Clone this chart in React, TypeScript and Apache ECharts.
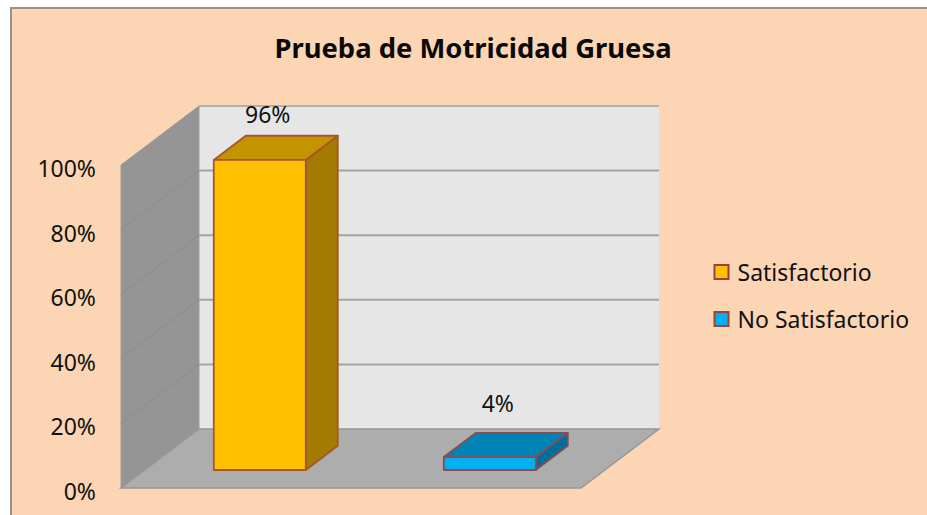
import React, { useEffect, useRef } from "react";
import * as echarts from "echarts";

const titleText = "Prueba de Motricidad Gruesa";
const categories = ["Satisfactorio", "No Satisfactorio"];
const satisfactorioValues = [96];
const noSatisfactorioValues = [4];
const yTicks = [0, 20, 40, 60, 80, 100];

const FONT = '"Noto Sans", sans-serif';
const DEPTH_X = 78;
const DEPTH_Y = -59;
const BAR_DEPTH_START = 0.305;
const BAR_DEPTH = 0.41;
const BAR_WIDTH_RATIO = 0.4;

function wallsRenderItem(params: any, api: any) {
  const cs = params.coordSys;
  const xL = cs.x;
  const xR = cs.x + cs.width;
  const yTop = cs.y;
  const yBot = cs.y + cs.height;
  const bx = DEPTH_X;
  const by = DEPTH_Y;
  const children: any[] = [
    {
      type: "polygon",
      shape: { points: [[xL + bx, yTop + by], [xR + bx, yTop + by], [xR + bx, yBot + by], [xL + bx, yBot + by]] },
      style: { fill: "#e6e6e6", stroke: "none" },
    },
    {
      type: "polygon",
      shape: { points: [[xL, yTop], [xL + bx, yTop + by], [xL + bx, yBot + by], [xL, yBot]] },
      style: { fill: "#959595", stroke: "#9c9c9c", lineWidth: 1 },
    },
    {
      type: "polygon",
      shape: { points: [[xL, yBot], [xR, yBot], [xR + bx, yBot + by], [xL + bx, yBot + by]] },
      style: { fill: "#adadad", stroke: "#979797", lineWidth: 1.5 },
    },
  ];
  yTicks.forEach((t) => {
    const y = api.coord([0, t])[1];
    if (t > 0) {
      children.push({
        type: "line",
        shape: { x1: xL + bx, y1: y + by, x2: xR + bx, y2: y + by },
        style: { stroke: t === 100 ? "#b0b0b0" : "#a3a3a3", lineWidth: 2 },
      });
      if (t < 100) {
        children.push({
          type: "line",
          shape: { x1: xL, y1: y, x2: xL + bx, y2: y + by },
          style: { stroke: "#8b8b8b", lineWidth: 1 },
        });
      }
    }
  });
  return { type: "group", children };
}

function barRenderItem(colors: { front: string; top: string; side: string; stroke: string }, labelLift: number) {
  return (_params: any, api: any) => {
    const idx = api.value(0);
    const val = api.value(1);
    const base = api.coord([idx, 0]);
    const tip = api.coord([idx, val]);
    const w = api.size([1, 0])[0] * BAR_WIDTH_RATIO;
    const ox = DEPTH_X * BAR_DEPTH_START;
    const oy = DEPTH_Y * BAR_DEPTH_START;
    const dx = DEPTH_X * BAR_DEPTH;
    const dy = DEPTH_Y * BAR_DEPTH;
    const l = base[0] + ox - w / 2;
    const r = l + w;
    const b = base[1] + oy;
    const t = tip[1] + oy;
    const edge = { stroke: colors.stroke, lineWidth: 1.8, lineJoin: "round" };
    return {
      type: "group",
      children: [
        {
          type: "polygon",
          shape: { points: [[r, t], [r + dx, t + dy], [r + dx, b + dy], [r, b]] },
          style: { fill: colors.side, ...edge },
        },
        {
          type: "polygon",
          shape: { points: [[l, t], [l + dx, t + dy], [r + dx, t + dy], [r, t]] },
          style: { fill: colors.top, ...edge },
        },
        {
          type: "polygon",
          shape: { points: [[l, t], [r, t], [r, b], [l, b]] },
          style: { fill: colors.front, ...edge },
        },
        {
          type: "text",
          style: {
            x: (l + r) / 2 + 8,
            y: t - labelLift,
            text: `${val}%`,
            fill: "#111",
            font: `23px ${FONT}`,
            align: "center",
            verticalAlign: "middle",
          },
        },
      ],
    };
  };
}

export default function App() {
  const ref = useRef<HTMLDivElement>(null);
  useEffect(() => {
    const chart = echarts.init(ref.current!, null, { renderer: "svg" });
    chart.setOption({
      animation: false,
      backgroundColor: "#ffffff",
      graphic: [
        {
          type: "rect",
          z: -10,
          silent: true,
          shape: { x: 11, y: 8, width: 940, height: 530 },
          style: { fill: "#fcd5b4", stroke: "#9a9288", lineWidth: 2 },
        },
      ],
      title: {
        text: titleText,
        left: 468,
        top: 29,
        textAlign: "center",
        textStyle: { fontFamily: FONT, fontSize: 27.4, fontWeight: "bold", color: "#0a0a0a" },
      },
      legend: {
        orient: "vertical",
        left: 713.5,
        top: 260,
        padding: 0,
        icon: "rect",
        itemWidth: 14,
        itemHeight: 14,
        itemGap: 23,
        selectedMode: false,
        data: categories,
        itemStyle: { borderColor: "#984539", borderWidth: 2 },
        textStyle: { fontFamily: FONT, fontSize: 23, lineHeight: 24, color: "#111", padding: [0, 0, 0, 4] },
      },
      grid: { left: 121, top: 165, width: 460, height: 323 },
      xAxis: {
        type: "category",
        data: categories,
        axisLine: { show: false },
        axisTick: { show: false },
        axisLabel: { show: false },
        splitLine: { show: false },
      },
      yAxis: {
        type: "value",
        min: 0,
        max: 100,
        interval: 20,
        axisLine: { show: false },
        axisTick: { show: false },
        splitLine: { show: false },
        axisLabel: {
          formatter: "{value}%",
          margin: 25,
          verticalAlign: "top",
          lineHeight: 6,
          fontFamily: FONT,
          fontSize: 23,
          color: "#111",
        },
      },
      series: [
        {
          type: "custom",
          name: "walls",
          silent: true,
          z: 1,
          data: [[0, 0]],
          renderItem: wallsRenderItem,
        },
        {
          type: "custom",
          name: categories[0],
          z: 2,
          silent: true,
          itemStyle: { color: "#ffc000" },
          data: satisfactorioValues.map((v) => [0, v]),
          renderItem: barRenderItem(
            { front: "#ffc000", top: "#c49400", side: "#a27b00", stroke: "#a5572b" },
            46
          ),
        },
        {
          type: "custom",
          name: categories[1],
          z: 2,
          silent: true,
          itemStyle: { color: "#00b0f0" },
          data: noSatisfactorioValues.map((v) => [1, v]),
          renderItem: barRenderItem(
            { front: "#00b0f0", top: "#0084b5", side: "#006f9e", stroke: "#8e4a4f" },
            54
          ),
        },
      ],
    });
    return () => chart.dispose();
  }, []);
  return <div ref={ref} style={{ position: "fixed", left: 0, top: 0, width: 927, height: 515 }} />;
}
